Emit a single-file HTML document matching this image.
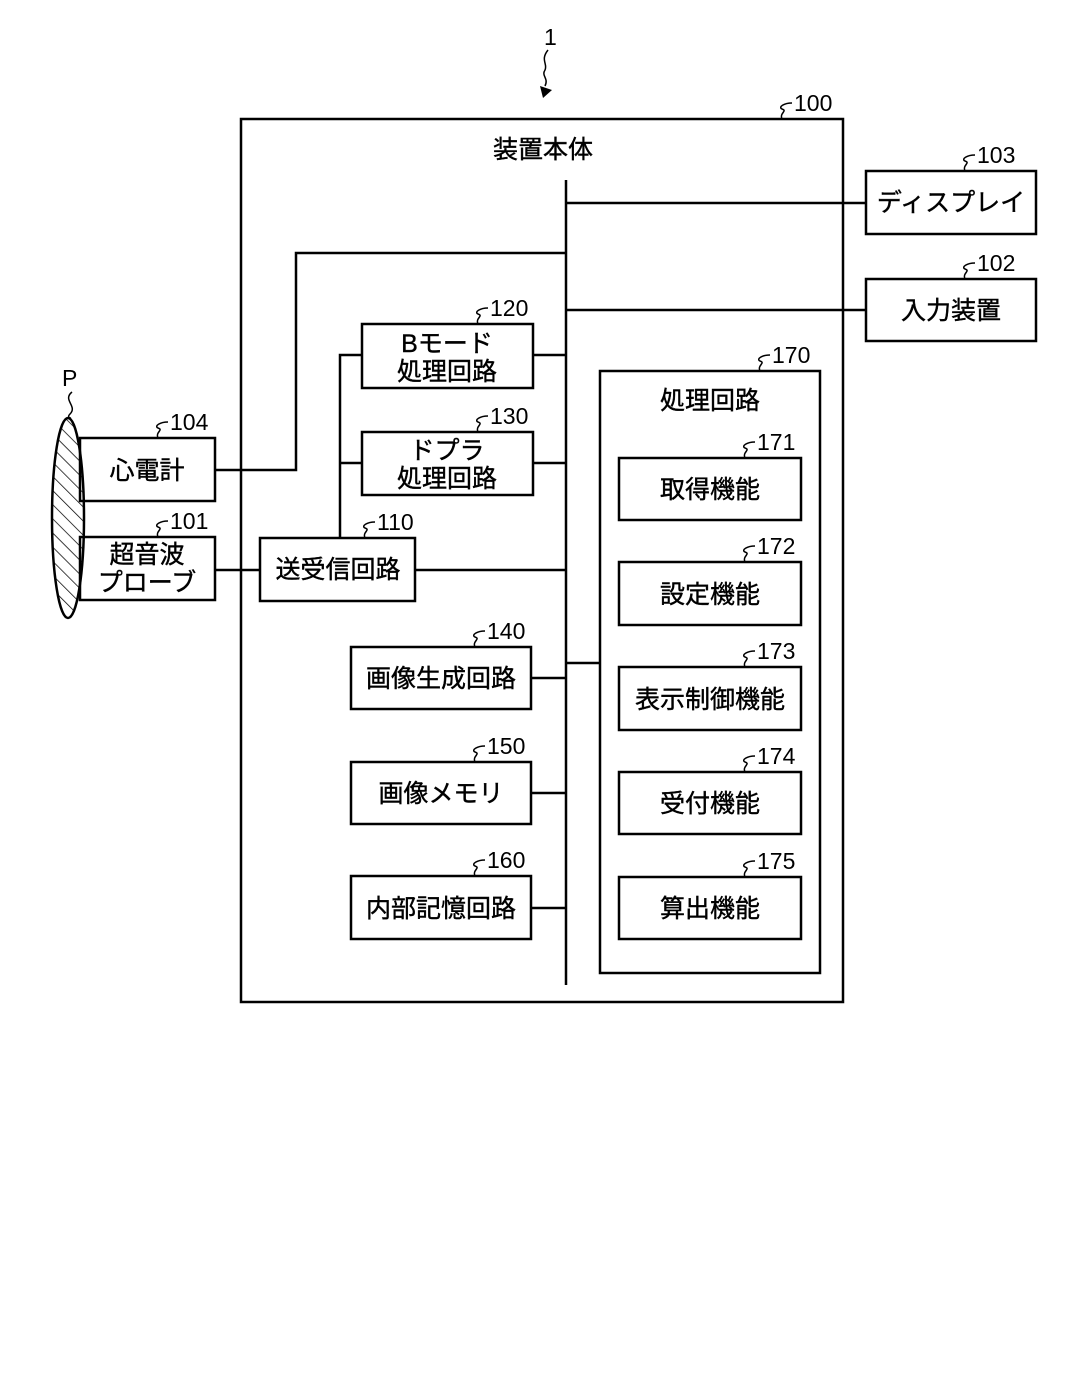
<!DOCTYPE html>
<html><head><meta charset="utf-8"><style>
html,body{margin:0;padding:0;background:#fff;}
svg{display:block;}
text{font-family:"Liberation Sans","Noto Sans CJK JP",sans-serif;fill:#000;}
.t{font-size:25px;text-anchor:middle;stroke:#000;stroke-width:0.4;}
.n{font-size:23px;}
</style></head><body>
<svg width="1087" height="1386" viewBox="0 0 1087 1386" xmlns="http://www.w3.org/2000/svg">
<defs>
<pattern id="h" patternUnits="userSpaceOnUse" width="10" height="10" patternTransform="rotate(-45)">
<line x1="0" y1="0" x2="0" y2="10" stroke="#000" stroke-width="1.5"/>
</pattern>
</defs>
<g fill="none" stroke="#000" stroke-width="2.5">
<rect x="241" y="119" width="602" height="883"/>
<line x1="566" y1="180" x2="566" y2="985"/>
<rect x="866" y="171" width="170" height="63"/>
<rect x="866" y="279" width="170" height="62"/>
<line x1="566" y1="203" x2="866" y2="203"/>
<line x1="566" y1="310" x2="866" y2="310"/>
<polyline points="566,253 296,253 296,470 215,470"/>
<rect x="362" y="324" width="171" height="64"/>
<rect x="362" y="432" width="171" height="63"/>
<line x1="533" y1="355" x2="566" y2="355"/>
<line x1="533" y1="463" x2="566" y2="463"/>
<polyline points="362,355 340,355 340,538"/>
<line x1="340" y1="463" x2="362" y2="463"/>
<rect x="260" y="538" width="155" height="63"/>
<line x1="415" y1="570" x2="566" y2="570"/>
<line x1="215" y1="570" x2="260" y2="570"/>
<rect x="80" y="438" width="135" height="63"/>
<rect x="80" y="537" width="135" height="63"/>
<rect x="351" y="647" width="180" height="62"/>
<rect x="351" y="762" width="180" height="62"/>
<rect x="351" y="876" width="180" height="63"/>
<line x1="531" y1="678" x2="566" y2="678"/>
<line x1="531" y1="793" x2="566" y2="793"/>
<line x1="531" y1="908" x2="566" y2="908"/>
<rect x="600" y="371" width="220" height="602"/>
<line x1="566" y1="663" x2="600" y2="663"/>
<rect x="619" y="458" width="182" height="62"/>
<rect x="619" y="562" width="182" height="63"/>
<rect x="619" y="667" width="182" height="63"/>
<rect x="619" y="772" width="182" height="62"/>
<rect x="619" y="877" width="182" height="62"/>
</g>
<ellipse cx="68" cy="518" rx="16" ry="100" fill="url(#h)" stroke="#000" stroke-width="2.5"/>
<g fill="none" stroke="#000" stroke-width="1.5">
<path d="M72,392 c-10,8 6,14 -2,22 c-4,4 2,4 0,4"/>
<path d="M548,50 c-8,10 0,14 -3,20 c-4,6 4,8 0,16"/>
<path d="M782,119 c-3,-6 6,-8 0,-10 c-4,-2 2,-6 10,-6"/>
<path d="M965,171 c-3,-6 6,-8 0,-10 c-4,-2 2,-6 10,-6"/>
<path d="M965,279 c-3,-6 6,-8 0,-10 c-4,-2 2,-6 10,-6"/>
<path d="M478,324 c-3,-6 6,-8 0,-10 c-4,-2 2,-6 10,-6"/>
<path d="M478,432 c-3,-6 6,-8 0,-10 c-4,-2 2,-6 10,-6"/>
<path d="M365,538 c-3,-6 6,-8 0,-10 c-4,-2 2,-6 10,-6"/>
<path d="M158,438 c-3,-6 6,-8 0,-10 c-4,-2 2,-6 10,-6"/>
<path d="M158,537 c-3,-6 6,-8 0,-10 c-4,-2 2,-6 10,-6"/>
<path d="M475,647 c-3,-6 6,-8 0,-10 c-4,-2 2,-6 10,-6"/>
<path d="M475,762 c-3,-6 6,-8 0,-10 c-4,-2 2,-6 10,-6"/>
<path d="M475,876 c-3,-6 6,-8 0,-10 c-4,-2 2,-6 10,-6"/>
<path d="M760,371 c-3,-6 6,-8 0,-10 c-4,-2 2,-6 10,-6"/>
<path d="M745,458 c-3,-6 6,-8 0,-10 c-4,-2 2,-6 10,-6"/>
<path d="M745,562 c-3,-6 6,-8 0,-10 c-4,-2 2,-6 10,-6"/>
<path d="M745,667 c-3,-6 6,-8 0,-10 c-4,-2 2,-6 10,-6"/>
<path d="M745,772 c-3,-6 6,-8 0,-10 c-4,-2 2,-6 10,-6"/>
<path d="M745,877 c-3,-6 6,-8 0,-10 c-4,-2 2,-6 10,-6"/>
</g>
<polygon points="540,86 552,90 543,98" fill="#000"/>
<text class="n" x="544" y="45">1</text>
<text class="n" x="62" y="386">P</text>
<text class="n" x="794" y="111">100</text>
<text class="n" x="977" y="163">103</text>
<text class="n" x="977" y="271">102</text>
<text class="n" x="490" y="316">120</text>
<text class="n" x="490" y="424">130</text>
<text class="n" x="377" y="530">110</text>
<text class="n" x="170" y="430">104</text>
<text class="n" x="170" y="529">101</text>
<text class="n" x="487" y="639">140</text>
<text class="n" x="487" y="754">150</text>
<text class="n" x="487" y="868">160</text>
<text class="n" x="772" y="363">170</text>
<text class="n" x="757" y="450">171</text>
<text class="n" x="757" y="554">172</text>
<text class="n" x="757" y="659">173</text>
<text class="n" x="757" y="764">174</text>
<text class="n" x="757" y="869">175</text>
<text class="t" x="543" y="158">装置本体</text>
<text class="t" x="951" y="211">ディスプレイ</text>
<text class="t" x="951" y="319">入力装置</text>
<text class="t" x="447" y="352">Bモード</text>
<text class="t" x="447" y="380">処理回路</text>
<text class="t" x="447" y="459">ドプラ</text>
<text class="t" x="447" y="487">処理回路</text>
<text class="t" x="338" y="578">送受信回路</text>
<text class="t" x="147" y="479">心電計</text>
<text class="t" x="147" y="563">超音波</text>
<text class="t" x="147" y="591">プローブ</text>
<text class="t" x="441" y="687">画像生成回路</text>
<text class="t" x="441" y="802">画像メモリ</text>
<text class="t" x="441" y="917">内部記憶回路</text>
<text class="t" x="710" y="409">処理回路</text>
<text class="t" x="710" y="498">取得機能</text>
<text class="t" x="710" y="603">設定機能</text>
<text class="t" x="710" y="708">表示制御機能</text>
<text class="t" x="710" y="812">受付機能</text>
<text class="t" x="710" y="917">算出機能</text>
</svg>
</body></html>
